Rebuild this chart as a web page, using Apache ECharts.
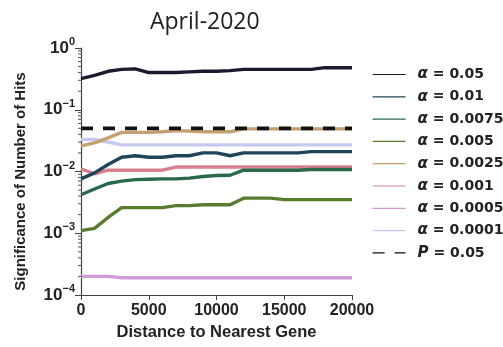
<!DOCTYPE html>
<html>
<head>
<meta charset="utf-8">
<script src="https://cdn.jsdelivr.net/npm/echarts@6/dist/echarts.min.js"></script>
<style>html,body{margin:0;padding:0;background:#fff}#c{width:503px;height:347px}</style>
</head>
<body>
<div id="c"></div>
<script>
// ---- data ----
var distance = [0,1000,2000,3000,4000,5000,6000,7000,8000,9000,10000,11000,12000,13000,14000,15000,16000,17000,18000,19000,20000];
var a0050  = [0.32,0.36,0.42,0.45,0.46,0.40,0.40,0.40,0.41,0.42,0.42,0.43,0.45,0.45,0.45,0.45,0.45,0.45,0.48,0.48,0.48];
var a0010  = [0.0076,0.0095,0.013,0.017,0.018,0.017,0.017,0.018,0.018,0.020,0.020,0.018,0.020,0.020,0.020,0.020,0.020,0.021,0.021,0.021,0.021];
var a00075 = [0.0042,0.0052,0.0064,0.0070,0.0074,0.0075,0.0076,0.0076,0.0078,0.0083,0.0086,0.0087,0.0105,0.0105,0.0105,0.0105,0.0105,0.0108,0.0108,0.0108,0.0108];
var a0005  = [0.0011,0.0012,0.0018,0.0026,0.0026,0.0026,0.0026,0.0028,0.0028,0.0029,0.0029,0.0029,0.0037,0.0037,0.0037,0.0035,0.0035,0.0035,0.0035,0.0035,0.0035];
var a00025 = [0.026,0.029,0.035,0.043,0.043,0.043,0.044,0.046,0.045,0.044,0.044,0.044,0.049,0.049,0.049,0.049,0.049,0.049,0.049,0.049,0.049];
var a0001  = [0.011,0.0092,0.0105,0.0105,0.0105,0.0105,0.0105,0.0118,0.0118,0.0118,0.0118,0.0118,0.0118,0.0118,0.0118,0.0118,0.0118,0.0118,0.0118,0.0118,0.0118];
var a00005 = [0.0002,0.0002,0.0002,0.00019,0.00019,0.00019,0.00019,0.00019,0.00019,0.00019,0.00019,0.00019,0.00019,0.00019,0.00019,0.00019,0.00019,0.00019,0.00019,0.00019,0.00019];
var a00001 = [0.033,0.033,0.030,0.027,0.027,0.027,0.027,0.027,0.027,0.027,0.027,0.027,0.027,0.027,0.027,0.027,0.027,0.027,0.027,0.027,0.027];
var pLine  = [0.05,0.05,0.05,0.05,0.05,0.05,0.05,0.05,0.05,0.05,0.05,0.05,0.05,0.05,0.05,0.05,0.05,0.05,0.05,0.05,0.05];
var seriesNames = ['α = 0.05','α = 0.01','α = 0.0075','α = 0.005','α = 0.0025','α = 0.001','α = 0.0005','α = 0.0001','P = 0.05'];
var xTicks = [0,5000,10000,15000,20000];
var minorTickValues = [];
[-4,-3,-2,-1].forEach(function(e){ for (var k=2;k<=9;k++) minorTickValues.push(k*Math.pow(10,e)); });

var colors = ['#1b1b2f','#1f4658','#2a6a4c','#5a7c2e','#c4a070','#d8808e','#d29ad8','#c6c9ef','#111111'];
var values = [a0050,a0010,a00075,a0005,a00025,a0001,a00005,a00001,pLine];

function pairs(v){ return distance.map(function(d,i){ return [d, v[i]]; }); }

var series = [];
var order = [7,6,5,4,3,2,1,0,8];
order.forEach(function(i){
  series.push({
    name: seriesNames[i], type:'line', symbol:'none', z: 2,
    data: pairs(values[i]),
    lineStyle:{color:colors[i], width: (i===8?3.6:3.4), type: (i===8?[12,10]:'solid'), cap:'butt'},
    itemStyle:{color:colors[i]},
    emphasis:{disabled:true}
  });
});
series.push({
  type:'custom', silent:true, clip:false, z:5,
  data: minorTickValues.map(function(v){ return [0, v]; }),
  renderItem:function(params, api){
    var p = api.coord([0, api.value(1)]);
    return {type:'line', shape:{x1:p[0]-3,y1:p[1],x2:p[0]+1,y2:p[1]}, style:{stroke:'#555',lineWidth:1}};
  }
});

var chart = echarts.init(document.getElementById('c'));
chart.setOption({
  animation:false,
  backgroundColor:'#fff',
  title:{text:'April-2020', left:145, top:6, textStyle:{fontFamily:'Open Sans', fontSize:23, fontWeight:'normal', color:'#222'}},
  grid:{left:81, right:151, top:48, bottom:52, containLabel:false},
  legend:{
    orient:'vertical', left:367, top:62, itemWidth:33, itemHeight:14, itemGap:7.3,
    data: seriesNames,
    itemStyle:{opacity:0},
    lineStyle:{width:1.2},
    formatter:function(name){
      var parts = name.split(' = ');
      return '{i|' + parts[0] + '}{t| = ' + parts[1] + '}';
    },
    textStyle:{
      padding:[0,0,0,7],
      rich:{
        i:{fontFamily:'DejaVu Sans', fontStyle:'italic', fontWeight:'bold', fontSize:15, color:'#222'},
        t:{fontFamily:'DejaVu Sans', fontWeight:'bold', fontSize:14, color:'#222'}
      }
    }
  },
  xAxis:{
    type:'value', min:0, max:20000, interval:5000,
    name:'Distance to Nearest Gene', nameLocation:'middle', nameGap:26,
    nameTextStyle:{fontFamily:'Liberation Sans', fontWeight:'bold', fontSize:16.5, color:'#222'},
    axisLine:{lineStyle:{color:'#444', width:1.2}},
    axisTick:{show:true, length:5, inside:false, lineStyle:{color:'#444'}},
    axisLabel:{fontFamily:'Liberation Sans', fontWeight:'bold', fontSize:16, color:'#222', margin:8,
      formatter:function(v){ return xTicks.indexOf(v)>=0 ? String(v) : ''; }},
    splitLine:{show:false}
  },
  yAxis:{
    type:'log', logBase:10, min:0.0001, max:1, interval:1,
    name:'Significance of Number of Hits', nameLocation:'middle', nameGap:53, nameRotate:90,
    nameTextStyle:{fontFamily:'Liberation Sans', fontWeight:'bold', fontSize:15, color:'#222', padding:[0,20,0,0]},
    axisLine:{show:true, lineStyle:{color:'#444', width:1.2}},
    axisTick:{show:true, length:6, lineStyle:{color:'#444'}},
    axisLabel:{margin:6, color:'#222',
      formatter:function(v){
        var e = Math.round(Math.log(v)/Math.LN10);
        var s = e<0 ? '\u2212' + (-e) : String(e);
        return '{b|10}{s|' + s + '}';
      },
      rich:{
        b:{fontFamily:'Liberation Sans', fontWeight:'bold', fontSize:17, color:'#222'},
        s:{fontFamily:'Liberation Sans', fontWeight:'bold', fontSize:11, color:'#222', padding:[0,0,12,0]}
      }
    },
    splitLine:{show:false}
  },
  series: series
});
</script>
</body>
</html>
